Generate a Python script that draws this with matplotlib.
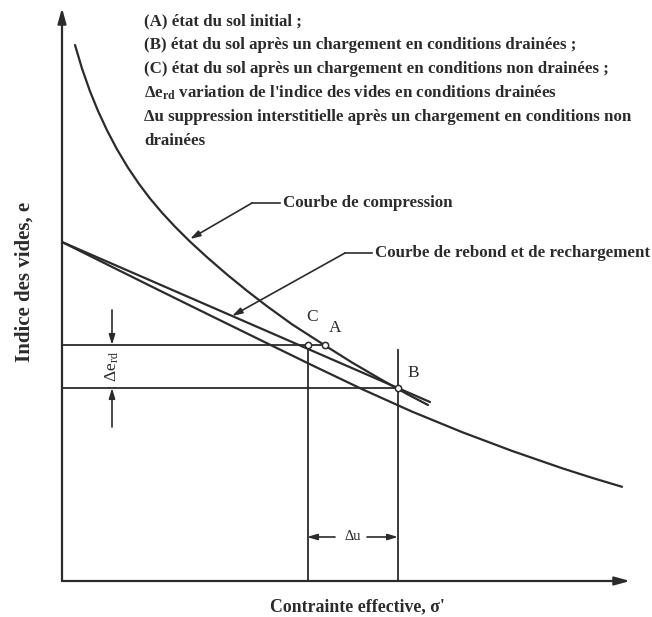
import matplotlib
matplotlib.use("Agg")
import matplotlib.pyplot as plt

plt.rcParams['font.family'] = ['Liberation Serif', 'DejaVu Serif']
plt.rcParams['mathtext.fontset'] = 'custom'
plt.rcParams['mathtext.rm'] = 'Liberation Serif'
plt.rcParams['mathtext.it'] = 'Liberation Serif:italic'
plt.rcParams['mathtext.bf'] = 'Liberation Serif:bold'

# Virgin compression curve (effective stress, void ratio), arbitrary units
comp_sigma = [13, 20, 28, 36, 45, 55, 66, 77, 88, 100, 113, 128, 145, 165,
              185, 205, 230, 263, 290, 320, 345, 366]
comp_e = [536, 512.5, 489.7, 470.1, 450.7, 431.7, 413.3, 397.1, 382.5, 368.3,
          354.3, 339.4, 323.8, 306.5, 290.2, 274.8, 256.7, 235.5, 218.5, 201,
          187, 176]

# Reloading line (straight) and unloading curve running on past B
reload_sigma = [0, 368]
reload_e = [339, 179]
unload_sigma = [0, 50, 100, 150, 200, 250, 300, 350, 400, 450, 500, 530, 560]
unload_e = [339, 314.1, 289.3, 264.7, 240.2, 215.8, 191.9, 169.4, 148.9,
            130.1, 112.8, 103.2, 94.2]

# Soil states
state_names = ['C', 'A', 'B']
state_sigma = [246, 263, 336]
state_e = [236, 236, 193]

# Axis extents
sigma_max = 568
e_max = 573

legend_lines = [
    "(A) état du sol initial ;",
    "(B) état du sol après un chargement en conditions drainées ;",
    "(C) état du sol après un chargement en conditions non drainées ;",
    r"$\mathbf{\Delta e}_{\mathbf{rd}}$ variation de l'indice des vides en conditions drainées",
    "Δu suppression interstitielle après un chargement en conditions non",
    "drainées",
]

INK = '#2b2b2b'
LW = 1.6
TXT = 12.2

fig = plt.figure(figsize=(6.52, 6.17), dpi=100)
ax = fig.add_axes([0, 0, 1, 1])
ax.set_xlim(-62, 590)
ax.set_ylim(-36, 581)
ax.axis('off')

# Axes with arrowheads
axis_arrow = dict(arrowstyle='-|>,head_length=0.9,head_width=0.25',
                  color=INK, lw=LW, shrinkA=0, shrinkB=0)
ax.annotate('', xy=(sigma_max, 0), xytext=(0, 0), arrowprops=axis_arrow)
ax.annotate('', xy=(0, e_max), xytext=(0, 0), arrowprops=axis_arrow)

# Curves
for xs, ys in [(comp_sigma, comp_e), (reload_sigma, reload_e),
               (unload_sigma, unload_e)]:
    ax.plot(xs, ys, color=INK, lw=LW, solid_capstyle='round',
            solid_joinstyle='round')

# Construction lines for states A, B, C
c_s, a_s, b_s = state_sigma
c_e, a_e, b_e = state_e
ax.plot([0, a_s], [a_e, a_e], color=INK, lw=1.3)
ax.plot([0, b_s], [b_e, b_e], color=INK, lw=1.3)
ax.plot([c_s, c_s], [0, c_e], color=INK, lw=1.3)
ax.plot([b_s, b_s], [0, 231], color=INK, lw=1.3)

ax.plot(state_sigma, state_e, 'o', ms=4.5, mfc='white', mec=INK, mew=1.1, zorder=5)
label_offsets = [(4, 28), (10, 17), (15, 15)]
for name, s, e, (dx, dy) in zip(state_names, state_sigma, state_e, label_offsets):
    ax.text(s + dx, e + dy, name, fontsize=12.5, color=INK, ha='center', va='center')

# Delta e_rd dimension arrows
arr = dict(arrowstyle='-|>,head_length=0.6,head_width=0.18', color=INK, lw=1.2,
           shrinkA=0, shrinkB=0)
ax.annotate('', xy=(50, a_e), xytext=(50, a_e + 35), arrowprops=arr)
ax.annotate('', xy=(50, b_e), xytext=(50, b_e - 39), arrowprops=arr)
ax.text(50, (a_e + b_e) / 2, r'$\Delta\mathrm{e}_{\mathrm{rd}}$', rotation=90,
        fontsize=12.5, color=INK, ha='center', va='center')

# Delta u dimension arrows
ax.annotate('', xy=(c_s - 1, 44), xytext=(c_s + 27, 44), arrowprops=arr)
ax.annotate('', xy=(b_s, 44), xytext=(b_s - 31, 44), arrowprops=arr)
ax.text((c_s + b_s) / 2, 45, 'Δu', fontsize=10.5, color=INK, ha='center',
        va='center')

# Curve labels with leaders
ax.plot([190, 218], [378, 378], color=INK, lw=1.2)
ax.annotate('', xy=(128, 342), xytext=(190, 378), arrowprops=arr)
ax.text(221, 378, 'Courbe de compression', fontsize=TXT, fontweight='bold',
        color=INK, va='center')
ax.plot([283, 310], [328, 328], color=INK, lw=1.2)
ax.annotate('', xy=(170, 265), xytext=(283, 328), arrowprops=arr)
ax.text(313, 328, 'Courbe de rebond et de rechargement', fontsize=TXT,
        fontweight='bold', color=INK, va='center')

# Description block
for i, line in enumerate(legend_lines):
    ax.text(82, 560 - 24 * i, line, fontsize=TXT, fontweight='bold', color=INK,
            va='center')

# Axis titles
ax.text(295, -26, "Contrainte effective, σ'", fontsize=12.8, fontweight='bold',
        color=INK, ha='center', va='center')
ax.text(-37, 299, 'Indice des vides, e', fontsize=15, fontweight='bold',
        color=INK, rotation=90, ha='center', va='center')

fig.savefig('out.png', dpi=100)
